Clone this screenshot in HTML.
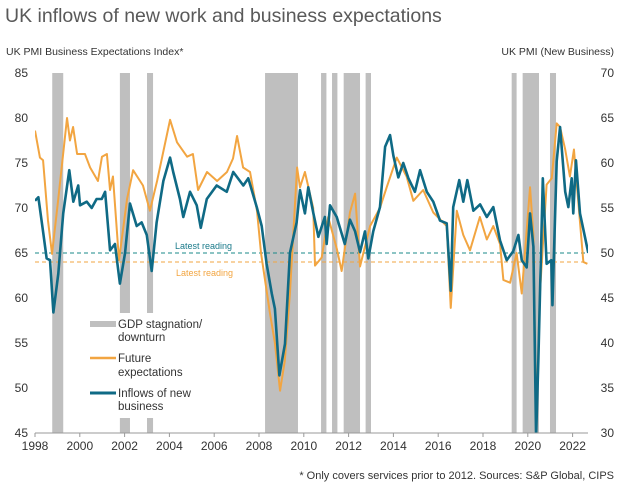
<!DOCTYPE html>
<html><head><meta charset="utf-8"><style>
body{margin:0;background:#fff;width:622px;height:488px;overflow:hidden;font-family:"Liberation Sans",sans-serif}
svg text{font-family:"Liberation Sans",sans-serif}
</style></head><body>
<svg id="chart" width="622" height="488" viewBox="0 0 622 488">
<text x="5" y="22" font-size="19.5" fill="#595959">UK inflows of new work and business expectations</text>
<text x="6" y="55" font-size="10.5" fill="#333">UK PMI Business Expectations Index*</text>
<text x="614" y="55" font-size="10.5" fill="#333" text-anchor="end">UK PMI (New Business)</text>
<g id="shade"></g><g id="refs"></g><g id="lines"></g><g id="axes"></g>
<rect x="86" y="313" width="114" height="105" fill="#fff"/>
<g>
<line x1="90" y1="324" x2="116" y2="324" stroke="#bfbfbf" stroke-width="6"/>
<text x="118" y="328" font-size="11.5" fill="#333">GDP stagnation/</text>
<text x="118" y="341" font-size="11.5" fill="#333">downturn</text>
<line x1="90" y1="358" x2="116" y2="358" stroke="#f2a541" stroke-width="2.5"/>
<text x="118" y="362" font-size="11.5" fill="#333">Future</text>
<text x="118" y="376" font-size="11.5" fill="#333">expectations</text>
<line x1="90" y1="393" x2="116" y2="393" stroke="#0f6a85" stroke-width="3"/>
<text x="118" y="397" font-size="11.5" fill="#333">Inflows of new</text>
<text x="118" y="410" font-size="11.5" fill="#333">business</text>
</g>
<text x="175" y="249" font-size="9" fill="#1a7a8a">Latest reading</text>
<text x="176" y="276" font-size="9" fill="#f2a541">Latest reading</text>
<text x="614" y="479" font-size="11" fill="#333" text-anchor="end">* Only covers services prior to 2012. Sources: S&amp;P Global, CIPS</text>
</svg>
<script>
const expYears=[1998.0,1998.22,1998.36,1998.58,1998.76,1999.03,1999.43,1999.56,1999.70,1999.88,2000.23,2000.46,2000.81,2000.99,2001.21,2001.35,2001.48,2001.75,2002.11,2002.38,2002.82,2003.13,2003.45,2004.03,2004.34,2004.79,2005.05,2005.28,2005.68,2006.13,2006.57,2006.84,2007.02,2007.29,2007.60,2007.91,2008.09,2008.49,2008.71,2008.94,2009.15,2009.38,2009.70,2009.83,2010.05,2010.42,2010.50,2010.80,2011.09,2011.47,2011.69,2012.06,2012.29,2012.51,2012.96,2013.40,2013.70,2014.15,2014.59,2014.89,2015.33,2015.78,2016.38,2016.56,2016.83,2017.12,2017.42,2017.86,2018.17,2018.46,2018.76,2018.91,2019.21,2019.50,2019.73,2020.10,2020.25,2020.37,2020.54,2020.84,2021.07,2021.29,2021.44,2021.67,2021.88,2022.06,2022.25,2022.48,2022.66];
const expValues=[78.6,75.6,75.3,68.6,64.9,70.8,80,77.5,79,76,76,74.5,73,75.7,76,72,73.5,64.2,71,74.2,72.5,69.7,73,79.8,77.3,75.7,76,72,74,73,74,75.5,78,74.5,74,69.7,65,58.3,55,49.7,53,60.5,74.5,72.3,74,70,63.6,64.5,69,65.5,63,69.5,71.6,63.5,68,70,72.3,75.6,73.5,70.8,72,69.5,68,58.9,69.7,67,65.3,69,66.5,68,66,62,61.7,65,60.5,72.3,67,45.5,60.5,72.6,73.3,79.4,79,76.5,73.5,76.5,70.8,64,63.8];
const infYears=[1998.0,1998.15,1998.37,1998.52,1998.67,1998.82,1999.04,1999.26,1999.53,1999.71,1999.93,2000.01,2000.31,2000.53,2000.75,2000.98,2001.13,2001.35,2001.57,2001.79,2002.02,2002.24,2002.54,2002.76,2002.99,2003.21,2003.43,2003.73,2004.03,2004.17,2004.47,2004.62,2004.92,2005.22,2005.40,2005.67,2006.11,2006.56,2006.85,2007.30,2007.52,2007.90,2008.12,2008.34,2008.57,2008.71,2008.91,2009.16,2009.38,2009.68,2009.83,2010.05,2010.20,2010.42,2010.65,2010.94,2011.02,2011.17,2011.47,2011.83,2012.06,2012.29,2012.51,2012.73,2012.88,2013.10,2013.40,2013.63,2013.85,2014.00,2014.22,2014.44,2014.67,2014.96,2015.19,2015.49,2015.78,2016.08,2016.38,2016.56,2016.67,2016.94,2017.12,2017.30,2017.57,2017.87,2018.17,2018.46,2018.76,2019.06,2019.35,2019.58,2019.73,2019.95,2020.10,2020.25,2020.37,2020.47,2020.67,2020.84,2021.05,2021.10,2021.29,2021.44,2021.67,2021.81,2021.96,2022.03,2022.15,2022.33,2022.55,2022.70];
const infValues=[55.8,56.2,52.2,49.4,49.2,43.4,47.7,54.4,59.2,55.7,57.5,55.3,55.7,55,56,56,56.8,50.3,51,46.6,50,55.5,53,53.4,52,48,53.4,58,60.6,59,56,54,56.8,55.3,52.8,56,57.5,56.8,59,57.5,58.3,55.1,53,48.8,45.5,43.8,36.4,39.9,50,53.4,57,54.4,57.3,54.5,51.8,54,51,55.3,54,51,53.7,52.4,50.1,52.4,49.4,52.4,55.1,61.8,63.1,60.8,58.4,60,58.3,56.8,59.2,56.8,55.7,53.6,53.3,45.8,55.1,58.1,55.7,58.1,54.7,55.4,54,55.1,51.4,49.2,50.2,52,49.2,48.4,54.4,50.7,29.5,38,58.3,48.8,49.2,44.2,60.2,64,56.8,55.1,58.3,54.4,60.3,54.4,51.8,50];
const shadeStarts=[1998.77,2001.79,2003.0,2008.27,2010.77,2011.26,2011.78,2012.76,2019.28,2019.77,2020.99];
const shadeEnds=[1999.26,2002.24,2003.27,2009.74,2011.01,2011.50,2012.51,2013.0,2019.50,2020.5,2021.26];
const leftTicks=[45,50,55,60,65,70,75,80,85];
const rightTicks=[30,35,40,45,50,55,60,65,70];
const xTicks=[1998,2000,2002,2004,2006,2008,2010,2012,2014,2016,2018,2020,2022];
const latestExp=64;
const latestInf=50;

const NS='http://www.w3.org/2000/svg';
const X0=35,X1=588,T=73,B=433;
const x=y=>X0+(y-1998)*22.4;
const yL=v=>B-(v-45)/40*(B-T);
const yR=v=>B-(v-30)/40*(B-T);
function mk(tag,attrs,parent){const e=document.createElementNS(NS,tag);for(const k in attrs)e.setAttribute(k,attrs[k]);document.getElementById(parent).appendChild(e);return e;}
shadeStarts.forEach((s,i)=>{
 const r=mk('rect',{x:x(s),y:T,width:x(shadeEnds[i])-x(s),height:B-T,fill:'#bfbfbf'},'shade');
 
 
});
const d1=mk('line',{x1:X0,x2:X1,y1:yR(latestInf),y2:yR(latestInf),stroke:'#1a8a8a','stroke-width':1,'stroke-dasharray':'4,3'},'refs');


const d2=mk('line',{x1:X0,x2:X1,y1:yL(latestExp),y2:yL(latestExp),stroke:'#f2a541','stroke-width':1,'stroke-dasharray':'4,3'},'refs');


const clip=mk('clipPath',{id:'pc'},'lines');mk('rect',{x:X0,y:T,width:X1-X0,height:B-T},'pc');
const p1=mk('polyline',{points:expYears.map((t,i)=>x(t)+','+yL(expValues[i])).join(' '),fill:'none',stroke:'#f2a541','stroke-width':2,'stroke-linejoin':'round','clip-path':'url(#pc)'},'lines');


const p2=mk('polyline',{points:infYears.map((t,i)=>x(t)+','+yR(infValues[i])).join(' '),fill:'none',stroke:'#0f6a85','stroke-width':2.6,'stroke-linejoin':'round','clip-path':'url(#pc)'},'lines');


const ax=mk('line',{x1:X0,x2:X1,y1:B,y2:B,stroke:'#999','stroke-width':1},'axes');


xTicks.forEach(t=>{
 const tk=mk('line',{x1:x(t),x2:x(t),y1:B,y2:B+4,stroke:'#999'},'axes');
 
 
 const tx=mk('text',{x:x(t),y:450,'font-size':12,fill:'#333','text-anchor':'middle'},'axes');tx.textContent=t;
 
 
});
leftTicks.forEach(v=>{
 const tx=mk('text',{x:28,y:yL(v)+4,'font-size':12,fill:'#333','text-anchor':'end'},'axes');tx.textContent=v;
 
 
});
rightTicks.forEach(v=>{
 const tx=mk('text',{x:614,y:yR(v)+4,'font-size':12,fill:'#333','text-anchor':'end'},'axes');tx.textContent=v;
 
 
});
</script>
</body></html>
